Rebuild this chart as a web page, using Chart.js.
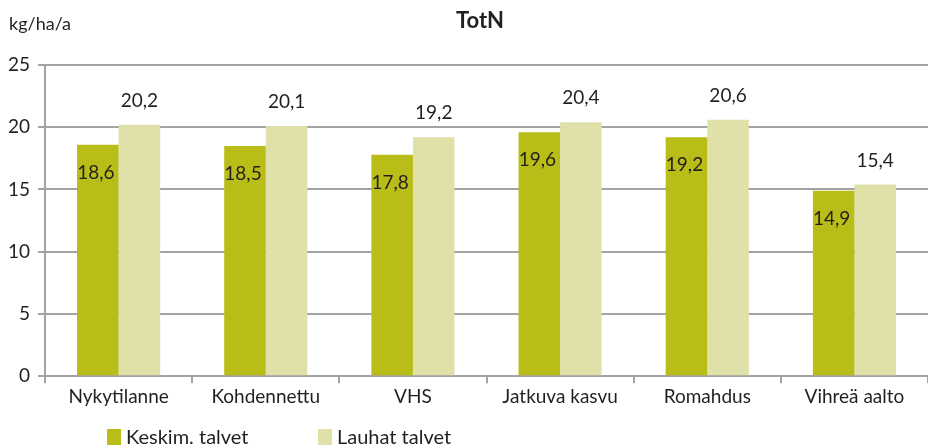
<!DOCTYPE html>
<html>
<head>
<meta charset="utf-8">
<script src="https://cdn.jsdelivr.net/npm/chart.js@4/dist/chart.umd.min.js"></script>
<style>
	html, body { margin: 0; padding: 0; background: #fff; }
	#wrap { width: 928px; height: 448px; position: relative; }
</style>
</head>
<body>
<div id="wrap"><canvas id="chart"></canvas></div>
<script>
// data
const categories = ['Nykytilanne', 'Kohdennettu', 'VHS', 'Jatkuva kasvu', 'Romahdus', 'Vihreä aalto'];
const keskim_talvet = [18.6, 18.5, 17.8, 19.6, 19.2, 14.9];
const lauhat_talvet = [20.2, 20.1, 19.2, 20.4, 20.6, 15.4];
const series_names = ['Keskim. talvet', 'Lauhat talvet'];
const y_ticks = [0, 5, 10, 15, 20, 25];

const font_family = 'Lato, "Open Sans", sans-serif';
const text_color = '#231f20';
const grid_color = '#a3a3a3';

function fmt(v)
{
	return v.toFixed(1).replace('.', ',');
}

// title, unit label, value labels and legend
const extras = {
	id: 'extras',
	afterDatasetsDraw(chart)
	{
		let ctx = chart.ctx;
		ctx.save();
		ctx.fillStyle = text_color;
		ctx.font = 'bold 22px ' + font_family;
		ctx.textAlign = 'center';
		ctx.textBaseline = 'middle';
		ctx.fillText('TotN', 480, 21);
		ctx.font = '18px ' + font_family;
		ctx.textAlign = 'left';
		ctx.fillText('kg/ha/a', 9, 24);

		ctx.font = '19px ' + font_family;
		ctx.textAlign = 'center';
		chart.data.datasets.forEach(function(ds, i)
		{
			let meta = chart.getDatasetMeta(i);
			meta.data.forEach(function(bar, j)
			{
				let v = ds.data[j];
				if(i === 0)
				{
					ctx.fillText(fmt(v), bar.x - 2, bar.y + 28);
				}
				else
				{
					ctx.fillText(fmt(v), bar.x, bar.y - 24);
				}
			});
		});

		// legend
		let lx = [107, 318];
		ctx.font = '20px ' + font_family;
		ctx.textAlign = 'left';
		chart.data.datasets.forEach(function(ds, i)
		{
			ctx.fillStyle = ds.backgroundColor;
			ctx.fillRect(lx[i], 429, 14, 16);
			ctx.fillStyle = text_color;
			ctx.fillText(ds.label, lx[i] + 19, 438);
		});
		ctx.restore();
	}
};

new Chart(document.getElementById('chart'),
	{
		type: 'bar',
		data:
			{
				labels: categories,
				datasets:
					[
						{
							label: series_names[0],
							data: keskim_talvet,
							backgroundColor: '#b8bd17',
							categoryPercentage: 0.565,
							barPercentage: 1
						},
						{
							label: series_names[1],
							data: lauhat_talvet,
							backgroundColor: '#e0e0a9',
							categoryPercentage: 0.565,
							barPercentage: 1
						}
					]
			},
		options:
			{
				responsive: true,
				maintainAspectRatio: false,
				animation: false,
				layout:
					{
						padding: { top: 65, right: -3, bottom: 38, left: 0 }
					},
				plugins:
					{
						legend: { display: false },
						title: { display: false },
						tooltip: { enabled: false }
					},
				scales:
					{
						x:
							{
								grid:
									{
										offset: true,
										drawOnChartArea: false,
										drawTicks: true,
										tickLength: 7,
										color: grid_color,
										lineWidth: 2
									},
								border: { color: grid_color, width: 2 },
								ticks:
									{
										color: text_color,
										font: { family: font_family, size: 19 },
										padding: 2
									}
							},
						y:
							{
								min: 0,
								max: 25,
								afterBuildTicks: function(axis)
									{
										axis.ticks = y_ticks.map(function(v) { return { value: v }; });
									},
								grid:
									{
										color: grid_color,
										lineWidth: 2,
										tickLength: 7
									},
								border: { color: grid_color, width: 2 },
								ticks:
									{
										color: text_color,
										font: { family: font_family, size: 19 },
										padding: 8
									}
							}
					}
			},
		plugins: [extras]
	});
</script>
</body>
</html>
